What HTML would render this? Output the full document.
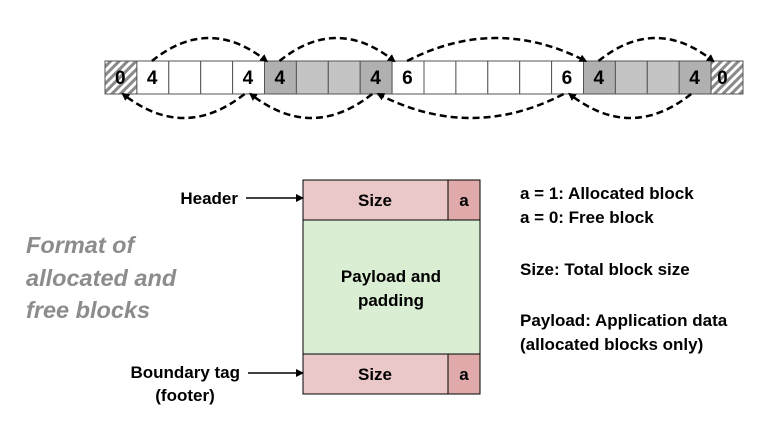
<!DOCTYPE html>
<html><head><meta charset="utf-8"><style>
html,body{margin:0;padding:0;background:#fff;}
svg{display:block;font-family:"Liberation Sans",sans-serif;}
</style></head><body>
<svg id="s" width="784" height="424" viewBox="0 0 784 424">
<defs>
<pattern id="hatch" width="6" height="6" patternUnits="userSpaceOnUse" patternTransform="rotate(45)">
<rect width="6" height="6" fill="#fff"/><rect width="3" height="6" fill="#8a8a8a"/>
</pattern>
<marker id="ah" markerWidth="8" markerHeight="8" refX="6" refY="4" orient="auto" markerUnits="userSpaceOnUse">
<path d="M0,0 L8,4 L0,8 z" fill="#000"/></marker>
</defs>
<g id="row"></g>
<g id="arcs"></g>

<g font-size="23.5" font-weight="bold" font-style="italic" fill="#8c8c8c">
<text x="26" y="253">Format of</text>
<text x="26" y="286">allocated and</text>
<text x="26" y="318">free blocks</text>
</g>

<g stroke="#000" stroke-width="1">
<rect x="303" y="180" width="145" height="40" fill="#eac8c8"/>
<rect x="448" y="180" width="32" height="40" fill="#e0aaaa"/>
<rect x="303" y="220" width="177" height="134" fill="#daeed3"/>
<rect x="303" y="354" width="145" height="40" fill="#eac8c8"/>
<rect x="448" y="354" width="32" height="40" fill="#e0aaaa"/>
</g>
<g font-size="17" font-weight="bold" fill="#000" text-anchor="middle">
<text x="375" y="206">Size</text><text x="464" y="206">a</text>
<text x="391" y="282">Payload and</text><text x="391" y="306">padding</text>
<text x="375" y="380">Size</text><text x="464" y="380">a</text>
</g>
<g font-size="17" font-weight="bold" fill="#000">
<text x="238" y="204" text-anchor="end">Header</text>
<text x="240" y="378" text-anchor="end">Boundary tag</text>
<text x="185" y="401" text-anchor="middle">(footer)</text>
</g>
<line x1="246" y1="198" x2="302" y2="198" stroke="#000" stroke-width="1.5" marker-end="url(#ah)"/>
<line x1="248" y1="373" x2="302" y2="373" stroke="#000" stroke-width="1.5" marker-end="url(#ah)"/>

<g font-size="17" font-weight="bold" fill="#000">
<text x="520" y="199">a = 1: Allocated block</text>
<text x="520" y="223">a = 0: Free block</text>
<text x="520" y="275">Size: Total block size</text>
<text x="520" y="326">Payload: Application data</text>
<text x="520" y="350">(allocated blocks only)</text>
</g>
</svg>
<script>
const cellLabels=["0","4","","","4","4","","","4","6","","","","","6","4","","","4","0"];
const cellKinds=["e","w","w","w","w","g","g","g","g","w","w","w","w","w","w","g","g","g","g","e"];
const topLinks=[[1,5],[5,9],[9,15],[15,19]];
const bottomLinks=[[18,14],[14,8],[8,4],[4,0]];
const NS="http://www.w3.org/2000/svg";
const x0=105,cw=31.9,y0=61,ch=33;
const cx=i=>x0+i*cw;
const row=document.getElementById('row');
cellLabels.forEach((l,i)=>{
  const r=document.createElementNS(NS,'rect');
  r.setAttribute('x',cx(i));r.setAttribute('y',y0);r.setAttribute('width',cw);r.setAttribute('height',ch);
  const k=cellKinds[i];
  r.setAttribute('fill',k==='e'?'url(#hatch)':k==='g'?(l?'#b0b0b0':'#c4c4c4'):'#fff');
  r.setAttribute('stroke','#555');r.setAttribute('stroke-width','1');
  
  
  row.appendChild(r);
  if(l){const t=document.createElementNS(NS,'text');
    t.setAttribute('x',cx(i)+(i===cellLabels.length-1?6:10));
    t.setAttribute('y',y0+23);t.setAttribute('font-size','19');t.setAttribute('font-weight','bold');
    t.textContent=l;
    
    
    row.appendChild(t);}
});
const arcs=document.getElementById('arcs');
function arc(a,b,top){
  const xa=cx(a)+ (top?15:12), xb=cx(b)+(top?2:18);
  const ya=top?y0:y0+ch, yb=ya;
  const cyv=top?y0-46:y0+ch+48;
  const p=document.createElementNS(NS,'path');
  p.setAttribute('d',`M${xa},${ya} Q${(xa+xb)/2},${cyv} ${xb},${yb}`);
  p.setAttribute('fill','none');p.setAttribute('stroke','#000');p.setAttribute('stroke-width','2.5');
  p.setAttribute('stroke-dasharray','7,4');p.setAttribute('marker-end','url(#ah)');
  
  
  arcs.appendChild(p);
}
topLinks.forEach(([a,b])=>arc(a,b,true));
bottomLinks.forEach(([a,b])=>arc(a,b,false));
</script>
</body></html>
